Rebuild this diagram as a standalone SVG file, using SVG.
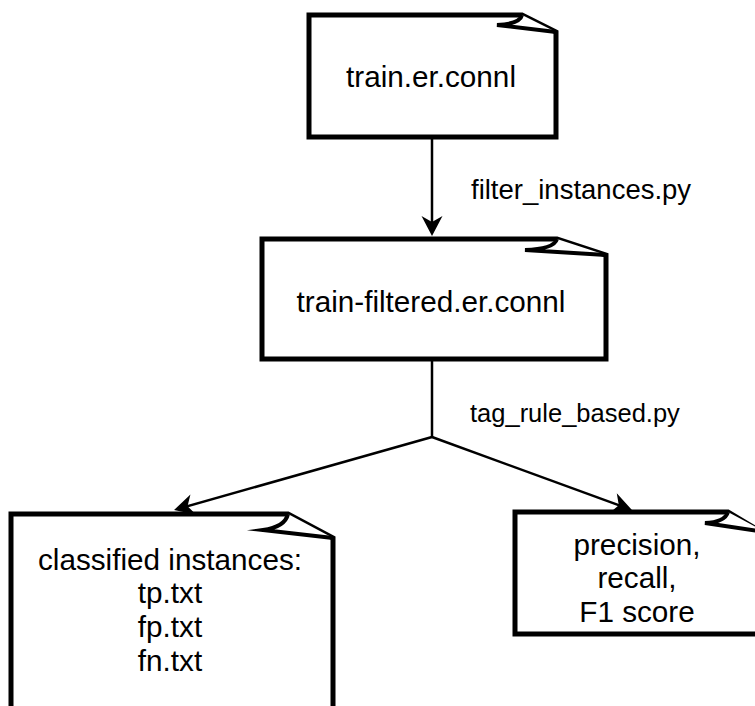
<svg xmlns="http://www.w3.org/2000/svg" width="755" height="706" viewBox="0 0 755 706">
  <style>
    .note { fill: #ffffff; stroke: #000000; stroke-width: 5; stroke-linejoin: miter; stroke-miterlimit: 10; }
    .fold { fill: #ffffff; stroke: #000000; stroke-width: 4; stroke-linejoin: miter; stroke-miterlimit: 10; }
    .edge { fill: none; stroke: #000000; stroke-width: 2.5; }
    .label { font-family: "Liberation Sans", Arial, Helvetica, sans-serif; fill: #000000; text-anchor: middle; }
    .node-text { font-size: 29.7px; }
    .edge-text { font-size: 26.5px; text-anchor: start; }
  </style>
  <defs>
    <marker id="arrow" viewBox="-17 -11 22 22" markerWidth="22" markerHeight="22" refX="0" refY="0" orient="auto" markerUnits="userSpaceOnUse">
      <path d="M4,0 L-16,-10.5 L-10,0 L-16,10.5 Z" fill="#000000"/>
    </marker>
  </defs>

  <rect width="755" height="706" fill="#ffffff"/>

  <!-- connectors -->
  <g id="connectors">
    <line class="edge" x1="432" y1="139" x2="432" y2="232" marker-end="url(#arrow)"/>
    <text class="label edge-text" x="471" y="199" style="font-size:27.5px">filter_instances.py</text>
    <polyline class="edge" points="432,361 432,437"/>
    <line class="edge" x1="432" y1="437" x2="177.9" y2="508.9" marker-end="url(#arrow)"/>
    <line class="edge" x1="432" y1="437" x2="628.2" y2="508.6" marker-end="url(#arrow)"/>
    <text class="label edge-text" x="470" y="422" style="font-size:25.5px">tag_rule_based.py</text>
  </g>

  <!-- input file -->
  <g id="train">
    <path class="note" d="M309,15 L522,15 L556,32 L556,137 L309,137 Z"/>
    <path class="fold" d="M522,15 Q520,24 497,25 L556,32"/>
    <text class="label node-text" x="431" y="87">train.er.connl</text>
  </g>

  <!-- filtered file -->
  <g id="train-filtered">
    <path class="note" d="M262,239 L557,239 L606,255 L606,359 L262,359 Z"/>
    <path class="fold" d="M557,239 Q554,249 525,250 L606,255"/>
    <text class="label node-text" x="431" y="312">train-filtered.er.connl</text>
  </g>

  <!-- classified instances -->
  <g id="classified">
    <path class="note" d="M11,514 L288,514 L333,538 L333,720 L11,720 Z"/>
    <path class="fold" d="M288,514 Q285,527 263,530 L333,538"/>
    <text class="label node-text" x="170" y="570">classified instances:</text>
    <text class="label node-text" x="170" y="603">tp.txt</text>
    <text class="label node-text" x="170" y="637">fp.txt</text>
    <text class="label node-text" x="170" y="671">fn.txt</text>
  </g>

  <!-- metrics -->
  <g id="metrics">
    <path class="note" d="M515,512 L728,512 L765,534 L765,634 L515,634 Z"/>
    <path class="fold" d="M728,512 Q725,522 705,523 L765,532"/>
    <text class="label node-text" x="637" y="555">precision,</text>
    <text class="label node-text" x="637" y="588">recall,</text>
    <text class="label node-text" x="637" y="622">F1 score</text>
  </g>
</svg>
